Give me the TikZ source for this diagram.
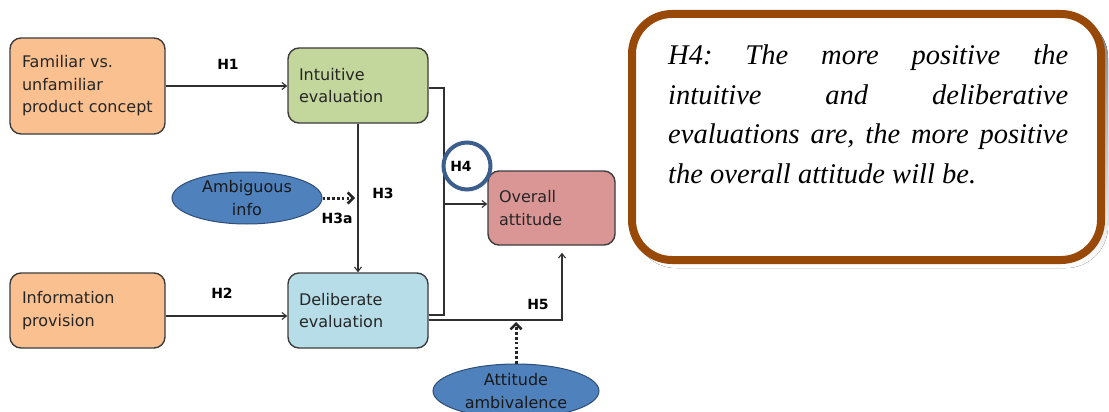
\documentclass[tikz,border=0pt]{standalone}
\usepackage{fontspec}
\setmainfont{DejaVu Sans}
\newfontfamily\hypfont{Liberation Serif}
\usetikzlibrary{arrows.meta,shapes.geometric}

\definecolor{peach}{HTML}{FAC090}
\definecolor{sage}{HTML}{C3D69B}
\definecolor{paleblue}{HTML}{B7DEE8}
\definecolor{rose}{HTML}{D99694}
\definecolor{ovalblue}{HTML}{4F81BD}
\definecolor{ovaledge}{HTML}{2E4E78}
\definecolor{ringblue}{HTML}{3B5E8C}
\definecolor{rust}{HTML}{984807}
\definecolor{edge}{HTML}{3C3C3C}
\definecolor{wire}{HTML}{303030}
\definecolor{shade}{HTML}{B4B4B4}

\tikzset{
  box/.style={draw=edge, line width=1.4pt, rounded corners=11pt, align=left,
    font=\fontsize{16}{22.5}\selectfont, text=black!85, inner ysep=0pt},
  oval/.style={ellipse, draw=ovaledge, line width=1pt, fill=ovalblue, inner sep=0pt,
    align=center, font=\fontsize{16}{22.5}\selectfont, text=black!90},
  hlabel/.style={font=\fontsize{14}{15}\selectfont\bfseries, inner sep=0pt},
  link/.style={draw=wire, line width=1.1pt},
  arr/.style={link, -{Straight Barb[length=4.5pt,width=7pt,line width=1.1pt]}},
  dotarr/.style={draw=black!85, line width=3pt, dash pattern=on 2.6pt off 2.2pt,
    -{Straight Barb[length=5.5pt,width=11pt,line width=2.6pt]}}
}

\begin{document}
\begin{tikzpicture}[x=1pt,y=-1pt]
\useasboundingbox (0,0) rectangle (1109,412);

% construct boxes
\node[box, fill=peach, minimum width=155pt, minimum height=96pt, inner xsep=12pt, text width=131pt]
  (fam) at (87.5,86) {Familiar vs.\\ unfamiliar\\ \mbox{product concept}};
\node[box, fill=sage, minimum width=140pt, minimum height=75pt, inner xsep=11pt, text width=118pt]
  (int) at (358,85.5) {Intuitive\\ evaluation};
\node[box, fill=peach, minimum width=155pt, minimum height=75pt, inner xsep=12pt, text width=131pt]
  (info) at (87.5,310.5) {Information\\ provision};
\node[box, fill=paleblue, minimum width=140pt, minimum height=75pt, inner xsep=11pt, text width=118pt]
  (del) at (358,310.5) {Deliberate\\ evaluation};
\node[box, fill=rose, minimum width=127pt, minimum height=74pt, inner xsep=11pt, text width=105pt]
  (ov) at (551.5,208) {Overall\\ attitude};

% moderators
\node[oval, minimum width=150pt, minimum height=52pt] (amb) at (247,198) {Ambiguous\\ info};
\node[oval, minimum width=166pt, minimum height=54pt] (att) at (516,391) {Attitude\\ ambivalence};

% direct paths
\draw[arr] (fam.east) -- (fam.east -| int.west);
\draw[arr] ([yshift=-5.5pt]info.east) -- ([yshift=-5.5pt]info.east -| del.west);
\draw[arr] (int.south) -- (del.north);

% joint path of both evaluations into the overall attitude
\coordinate (bktop) at (444,88);
\coordinate (bkbot) at (444,315);
\draw[link] ([yshift=-2.5pt]int.east) -- (bktop) -- (bkbot) -- (bkbot -| del.east);
\draw[arr] ([yshift=4pt]ov.west -| bktop) -- ([yshift=4pt]ov.west);

% H5 path
\coordinate (h5) at (562,320);
\draw[arr, shorten >=7pt] ([yshift=-9.5pt]del.east) -- (h5) -- (h5 |- ov.south);

% moderating effects
\coordinate (h3a) at (355,198);
\draw[dotarr] (amb.east) -- (h3a);
\coordinate (h5m) at (516,322);
\draw[dotarr] (att.north) -- (h5m);

% hypothesis labels
\node[hlabel] (l1) at (228,64) {H1};
\node[hlabel] (l2) at (222,293) {H2};
\node[hlabel] (l3) at (383,193) {H3};
\node[hlabel] (l3a) at (337,218) {H3a};
\node[hlabel] (l5) at (538,304) {H5};
\node[hlabel] (l4) at (461,166) {H4};
\node[circle, draw=ringblue, line width=4pt, minimum size=47pt, inner sep=0pt] (ring) at (467,166) {};

% hypothesis statement
\fill[shade, rounded corners=42pt] (634,16) rectangle (1108,268);
\draw[rust, fill=white, line width=8pt, rounded corners=40pt] (632,14) rectangle (1101,260);
\node[anchor=north west, inner sep=0pt, text width=400pt, align=justify,
  font=\hypfont\itshape\fontsize{28.5}{39.7}\selectfont\frenchspacing] (hyp) at (668,44.5)
  {H4: The more positive the\linebreak intuitive and deliberative\linebreak evaluations are, the more positive\linebreak the overall attitude will be.};
\end{tikzpicture}
\end{document}
